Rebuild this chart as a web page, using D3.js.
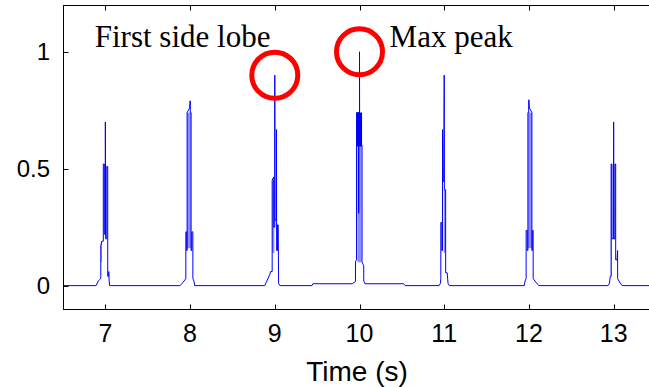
<!DOCTYPE html>
<html><head><meta charset="utf-8">
<script src="https://cdn.jsdelivr.net/npm/d3@7"></script>
<style>body{margin:0;background:#fff;}svg{display:block;}</style>
</head><body>
<svg id="c" width="649" height="387"></svg>
<script>
// ---- data ----
const xTicks = [7, 8, 9, 10, 11, 12, 13];
const yTicks = [0, 0.5, 1];
const yTickLabels = ["0", "0.5", "1"];
const xLabel = "Time (s)";
const peakCenters = [7, 8, 9, 10, 11, 12, 13];
// each peak: [time offset from centre (s), amplitude]
const peak7 = [[-0.11,0],[-0.083,0.02],[-0.054,0.03],[-0.054,0.17],[-0.041,0.19],[-0.024,0.19],[-0.024,0.52],[-0.012,0.52],[-0.012,0.22],[0,0.22],[0,0.70],[0.003,0.20],[0.017,0.20],[0.017,0.51],[0.028,0.51],[0.028,0.04],[0.04,0.04],[0.04,0.06],[0.045,0.02],[0.05,0],[0.067,0]];
const peak8 = [[-0.117,0],[-0.081,0.015],[-0.05,0.03],[-0.05,0.23],[-0.04,0.23],[-0.04,0.15],[-0.035,0.15],[-0.035,0.74],[-0.005,0.76],[0,0.79],[0.003,0.79],[0.003,0.74],[0.012,0.74],[0.012,0.15],[0.02,0.15],[0.02,0.23],[0.033,0.23],[0.033,0.03],[0.045,0.02],[0.055,0]];
const peak9 = [[-0.118,0],[-0.059,0.047],[-0.05,0.06],[-0.031,0.06],[-0.031,0.45],[-0.012,0.465],[-0.012,0.25],[0,0.25],[0,0.90],[0.002,0.28],[0.02,0.28],[0.02,0.667],[0.022,0.15],[0.032,0.15],[0.032,0.26],[0.04,0.26],[0.045,0.01],[0.06,0]];
const peak10 = [[-0.086,0.008],[-0.047,0.018],[-0.047,0.104],[-0.035,0.11],[-0.035,0.74],[-0.012,0.74],[-0.012,0.31],[-0.008,0.31],[-0.008,0.74],[0,0.74],[0,1.0],[0.002,0.60],[0.03,0.60],[0.03,0.10],[0.05,0.085],[0.05,0.02],[0.065,0.008]];
const peak11 = [[-0.06,0],[-0.045,0.01],[-0.04,0.03],[-0.04,0.27],[-0.028,0.27],[-0.028,0.15],[-0.02,0.15],[-0.02,0.667],[-0.015,0.445],[-0.005,0.445],[0,0.90],[0.002,0.41],[0.017,0.41],[0.017,0.055],[0.035,0.055],[0.045,0.01],[0.06,0]];
const peak12 = [[-0.055,0],[-0.045,0.02],[-0.033,0.03],[-0.033,0.236],[-0.02,0.236],[-0.02,0.15],[-0.012,0.15],[-0.012,0.74],[-0.003,0.74],[-0.003,0.79],[0,0.795],[0.005,0.76],[0.035,0.74],[0.035,0.15],[0.04,0.15],[0.04,0.236],[0.05,0.236],[0.05,0.03],[0.081,0.015],[0.117,0]];
const peak13 = [[-0.067,0],[-0.05,0.01],[-0.04,0.04],[-0.03,0.04],[-0.03,0.52],[-0.02,0.52],[-0.02,0.2],[-0.003,0.2],[0,0.70],[0.003,0.2],[0.015,0.2],[0.015,0.52],[0.024,0.52],[0.024,0.11],[0.04,0.11],[0.047,0.15],[0.047,0.03],[0.07,0.015],[0.1,0]];
const peaks = [peak7, peak8, peak9, peak10, peak11, peak12, peak13];
// baseline between peaks [time, amplitude]
const baseline = [[6.5,0],[9.44,0],[9.45,0.008],[10.52,0.008],[10.54,0],[13.5,0]];
// dense oscillation bands: [centre, t0 offset, t1 offset, low, high, dark?]
const bands = [[7,-0.054,-0.041,0.1,0.19,0],[8,-0.035,0.012,0.16,0.74,0],[9,-0.031,-0.005,0.14,0.45,0],[10,-0.024,0.024,0.1,0.6,0],[10,-0.03,0.03,0.595,0.74,1],[11,-0.005,0.017,0.14,0.41,0],[12,-0.012,0.035,0.16,0.74,0],[13,-0.03,-0.02,0.04,0.52,0]];
const circles = [[9, 0.9], [10, 1.0]];
const notes = [["First side lobe", 6.875, 1.02], ["Max peak", 10.355, 1.02]];

// ---- layout ----
const svg = d3.select("#c");
const L = 63, T = 5, R = 656, B = 309;
const x = d3.scaleLinear().domain([6.5, 13.5]).range([L, R]);
const y = d3.scaleLinear().domain([-0.1, 1.2]).range([B, T]);

// merge baseline points between the peak segments
const merged = [];
const segs = peaks.map((p, i) => ({start: peakCenters[i] + p[0][0], end: peakCenters[i] + p[p.length-1][0], pts: p.map(d => [peakCenters[i] + d[0], d[1]])}));
let bi = 0;
const bl = baseline.slice();
segs.forEach(s => {
  while (bi < bl.length && bl[bi][0] < s.start) { merged.push(bl[bi]); bi++; }
  s.pts.forEach(q => merged.push(q));
  while (bi < bl.length && bl[bi][0] <= s.end) bi++;
});
while (bi < bl.length) { merged.push(bl[bi]); bi++; }

svg.append("defs").append("clipPath").attr("id", "clip")
  .append("rect").attr("x", L).attr("y", T).attr("width", R - L).attr("height", B - T);

const g = svg.append("g").attr("clip-path", "url(#clip)");
g.selectAll("rect.band").data(bands).enter().append("rect")
  .attr("x", d => x(d[0] + d[1])).attr("width", d => x(d[0] + d[2]) - x(d[0] + d[1]))
  .attr("y", d => y(d[4])).attr("height", d => y(d[3]) - y(d[4]))
  .attr("fill", d => d[5] ? "#0000ee" : "#8c8cff");

g.append("path").datum(merged)
  .attr("d", d3.line().x(d => x(d[0])).y(d => y(d[1])))
  .attr("fill", "none").attr("stroke", "#0000ff").attr("stroke-width", 1);

// frame
svg.append("rect").attr("x", L + 0.5).attr("y", T + 0.5).attr("width", R - L).attr("height", B - T)
  .attr("fill", "none").attr("stroke", "#000").attr("stroke-width", 1);

// ticks (inward)
const tk = 5;
xTicks.forEach(t => {
  const xp = Math.round(x(t)) + 0.5;
  svg.append("line").attr("x1", xp).attr("x2", xp).attr("y1", B + 0.5).attr("y2", B + 0.5 - tk).attr("stroke", "#000");
  svg.append("line").attr("x1", xp).attr("x2", xp).attr("y1", T + 0.5).attr("y2", T + 0.5 + tk).attr("stroke", "#000");
});
yTicks.forEach(t => {
  const yp = Math.round(y(t)) + 0.5;
  svg.append("line").attr("x1", L + 0.5).attr("x2", L + 0.5 + tk).attr("y1", yp).attr("y2", yp).attr("stroke", "#000");
});

const sans = "Liberation Sans, Arial, sans-serif";
svg.selectAll("text.xt").data(xTicks).enter().append("text")
  .attr("x", d => x(d)).attr("y", 342).attr("text-anchor", "middle")
  .attr("font-family", sans).attr("font-size", 25).text(d => d);
svg.selectAll("text.yt").data(yTicks).enter().append("text")
  .attr("x", 50).attr("y", d => y(d) + 8.5).attr("text-anchor", "end")
  .attr("font-family", sans).attr("font-size", 24).text((d, i) => yTickLabels[i]);
svg.append("text").attr("x", 357).attr("y", 381).attr("text-anchor", "middle")
  .attr("font-family", sans).attr("font-size", 28).text(xLabel);

// annotations
svg.selectAll("circle.mk").data(circles).enter().append("circle")
  .attr("cx", d => x(d[0])).attr("cy", d => y(d[1])).attr("r", 23)
  .attr("fill", "none").attr("stroke", "#ff0000").attr("stroke-width", 5);
svg.selectAll("text.note").data(notes).enter().append("text")
  .attr("x", d => x(d[1])).attr("y", d => y(d[2]))
  .attr("font-family", "Liberation Serif, Times New Roman, serif").attr("font-size", 31).text(d => d[0]);
</script>
</body></html>
